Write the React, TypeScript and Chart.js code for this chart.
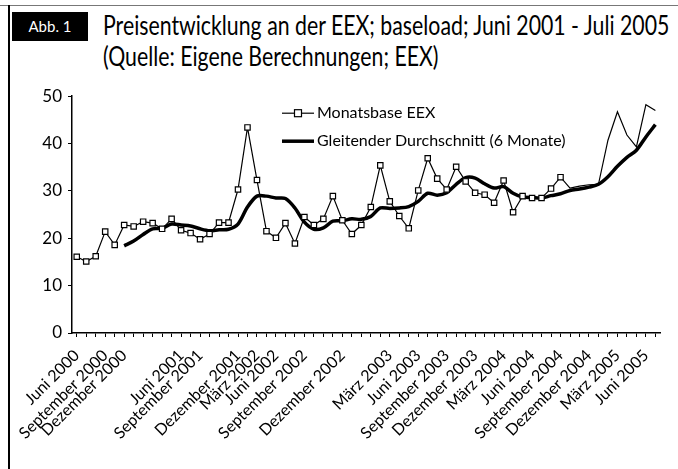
import React, { useEffect, useLayoutEffect, useRef } from "react";
import { Chart, registerables } from "chart.js";

Chart.register(...registerables);

// Monthly categories, Juni 2000 – Juli 2005
const categories = [
  "Jun 00", "Jul 00", "Aug 00", "Sep 00", "Okt 00", "Nov 00", "Dez 00",
  "Jan 01", "Feb 01", "Mär 01", "Apr 01", "Mai 01", "Jun 01", "Jul 01", "Aug 01", "Sep 01", "Okt 01", "Nov 01", "Dez 01",
  "Jan 02", "Feb 02", "Mär 02", "Apr 02", "Mai 02", "Jun 02", "Jul 02", "Aug 02", "Sep 02", "Okt 02", "Nov 02", "Dez 02",
  "Jan 03", "Feb 03", "Mär 03", "Apr 03", "Mai 03", "Jun 03", "Jul 03", "Aug 03", "Sep 03", "Okt 03", "Nov 03", "Dez 03",
  "Jan 04", "Feb 04", "Mär 04", "Apr 04", "Mai 04", "Jun 04", "Jul 04", "Aug 04", "Sep 04", "Okt 04", "Nov 04", "Dez 04",
  "Jan 05", "Feb 05", "Mär 05", "Apr 05", "Mai 05", "Jun 05", "Jul 05",
];

// Axis tick labels and the category index each one sits at (as in the picture)
const tickTexts = [
  "Juni 2000", "September 2000", "Dezember 2000", "Juni 2001", "September 2001",
  "Dezember 2001", "März 2002", "Juni 2002", "September 2002", "Dezember 2002",
  "März 2003", "Juni 2003", "September 2003", "Dezember 2003", "März 2004",
  "Juni 2004", "September 2004", "Dezember 2004", "März 2005", "Juni 2005",
];
const tickIndices = [0, 3, 5, 11, 13, 17, 19, 21, 24, 28, 33, 36, 39, 42, 45, 48, 51, 54, 57, 60];

// Monatsbase EEX (EUR/MWh)
const monatsbase = [
  16.1, 15.1, 16.2, 21.4, 18.6, 22.8, 22.5, 23.5, 23.2, 22.0,
  24.1, 21.7, 21.1, 19.8, 20.9, 23.3, 23.3, 30.3, 43.4, 32.3,
  21.5, 20.1, 23.2, 18.9, 24.5, 22.8, 24.1, 28.9, 23.8, 20.9,
  22.8, 26.6, 35.4, 27.8, 24.7, 22.1, 30.1, 36.9, 32.6, 30.3,
  35.1, 32.0, 29.6, 29.2, 27.5, 32.2, 25.5, 28.9, 28.5, 28.5,
  30.5, 32.9, 30.6, 31.0, 31.3, 31.4, 40.7, 46.7, 41.8, 39.3,
  48.2, 47.0,
];

// Gleitender Durchschnitt (6 Monate)
const gleitend = [
  null, null, null, null, null, 18.4, 19.4, 20.8, 22.0, 22.1,
  23.0, 22.8, 22.6, 22.0, 21.6, 21.8, 21.9, 23.0, 26.6, 28.9,
  28.9, 28.5, 28.4, 26.4, 23.4, 21.9, 22.2, 23.6, 23.7, 24.1,
  24.0, 24.6, 26.4, 26.3, 26.4, 26.7, 27.8, 29.5, 29.1, 29.6,
  31.4, 32.8, 32.7, 31.5, 30.6, 30.9, 29.5, 28.7, 28.6, 28.5,
  29.0, 29.4, 30.1, 30.4, 30.8, 31.4, 33.0, 35.2, 37.1, 38.6,
  41.4, 44.0,
];

// Markers are visible up to this index in the picture
const lastMarkerIndex = 51;

const FONT = "Lato, 'Open Sans', sans-serif";

const legendPlugin = {
  id: "insideLegend",
  afterDraw(chart: any) {
    const { ctx, chartArea } = chart;
    const ds = chart.data.datasets;
    const x0 = chartArea.left + 210;
    const x1 = chartArea.left + 242;
    const y1 = chartArea.top + 17;
    const y2 = chartArea.top + 45;
    ctx.save();
    ctx.strokeStyle = "#000";
    ctx.lineWidth = 1.2;
    ctx.beginPath();
    ctx.moveTo(x0, y1);
    ctx.lineTo(x1, y1);
    ctx.stroke();
    const mx = (x0 + x1) / 2;
    ctx.fillStyle = "#fff";
    ctx.fillRect(mx - 3.5, y1 - 3.5, 7, 7);
    ctx.strokeRect(mx - 3.5, y1 - 3.5, 7, 7);
    ctx.lineWidth = 3.5;
    ctx.beginPath();
    ctx.moveTo(x0, y2);
    ctx.lineTo(x1, y2);
    ctx.stroke();
    ctx.fillStyle = "#000";
    ctx.font = `16px ${FONT}`;
    ctx.textBaseline = "middle";
    ctx.textAlign = "left";
    ctx.fillText(ds[0].label, x1 + 3, y1);
    ctx.fillText(ds[1].label, x1 + 3, y2);
    ctx.restore();
  },
};

export default function App() {
  const canvasRef = useRef<HTMLCanvasElement | null>(null);
  const titleRef = useRef<HTMLDivElement | null>(null);

  useLayoutEffect(() => {
    const el = titleRef.current;
    if (!el) return;
    const inner = el.firstElementChild as HTMLElement;
    const w = inner.scrollWidth;
    const target = 566;
    if (w > 0) inner.style.transform = `scaleX(${target / w})`;
  }, []);

  useEffect(() => {
    if (!canvasRef.current) return;
    const labelMap: Record<number, string> = {};
    tickIndices.forEach((idx, k) => (labelMap[idx] = tickTexts[k]));

    const chart = new Chart(canvasRef.current, {
      type: "line",
      data: {
        labels: categories,
        datasets: [
          {
            label: "Monatsbase EEX",
            data: monatsbase,
            borderColor: "#000",
            borderWidth: 1.2,
            tension: 0,
            pointStyle: "rect",
            pointRadius: monatsbase.map((_, i) => (i <= lastMarkerIndex ? 3.8 : 0)),
            pointBackgroundColor: "#fff",
            pointBorderColor: "#000",
            pointBorderWidth: 1.2,
          },
          {
            label: "Gleitender Durchschnitt (6 Monate)",
            data: gleitend,
            borderColor: "#000",
            borderWidth: 3.5,
            tension: 0.3,
            pointRadius: 0,
            spanGaps: false,
          },
        ],
      },
      options: {
        animation: false,
        responsive: true,
        maintainAspectRatio: false,
        layout: { padding: { top: 14, right: 5, left: 0, bottom: 0 } },
        plugins: {
          legend: { display: false },
          tooltip: { enabled: false },
        },
        scales: {
          x: {
            type: "category",
            offset: true,
            grid: {
              drawOnChartArea: false,
              drawTicks: true,
              tickLength: 4,
              color: "#000",
              offset: false,
            },
            border: { color: "#000", width: 1.5 },
            ticks: {
              autoSkip: false,
              maxRotation: 45,
              minRotation: 45,
              color: "#000",
              padding: 9,
              font: { family: FONT, size: 16 },
              callback: (_v: any, i: number) => labelMap[i] ?? "",
            },
            afterFit: (s: any) => {
              s.height = 136;
            },
          },
          y: {
            min: 0,
            max: 50,
            grid: {
              drawOnChartArea: false,
              drawTicks: true,
              tickLength: 4,
              color: "#000",
            },
            border: { color: "#000", width: 1.5 },
            ticks: {
              stepSize: 10,
              color: "#000",
              padding: 6,
              font: { family: FONT, size: 17 },
            },
            afterFit: (s: any) => {
              s.width = 64;
            },
          },
        },
      },
      plugins: [legendPlugin],
    });
    return () => chart.destroy();
  }, []);

  return (
    <div
      style={{
        position: "absolute",
        left: 0,
        top: 0,
        width: 678,
        height: 469,
        background: "#fff",
        overflow: "hidden",
        fontFamily: FONT,
      }}
    >
      <div style={{ position: "absolute", left: 0, top: 5, width: 678, height: 1, background: "#777" }} />
      <div style={{ position: "absolute", left: 8, top: 5, width: 1.5, height: 464, background: "#000" }} />
      <div
        style={{
          position: "absolute",
          left: 12,
          top: 12,
          width: 76,
          height: 29,
          background: "#000",
          color: "#fff",
          fontSize: 15,
          lineHeight: "29px",
          textAlign: "center",
        }}
      >
        Abb. 1
      </div>
      <div
        ref={titleRef}
        style={{ position: "absolute", left: 103, top: 9, width: 575, color: "#000" }}
      >
        <div
          style={{
            display: "inline-block",
            whiteSpace: "nowrap",
            fontSize: 27,
            lineHeight: "31px",
            transformOrigin: "0 0",
          }}
        >
          Preisentwicklung an der EEX; baseload; Juni 2001 - Juli 2005
          <br />
          (Quelle: Eigene Berechnungen; EEX)
        </div>
      </div>
      <div style={{ position: "absolute", left: 8, top: 80, width: 670, height: 389 }}>
        <canvas ref={canvasRef} />
      </div>
    </div>
  );
}
